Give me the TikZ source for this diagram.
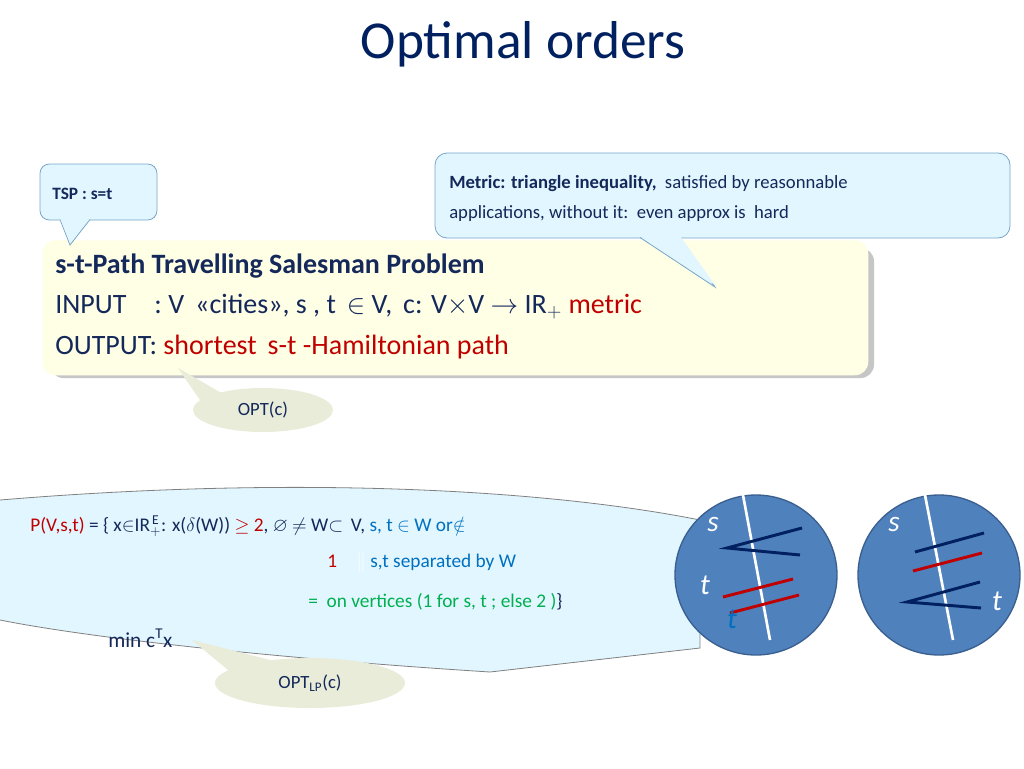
\documentclass[tikz,border=0pt]{standalone}
\usepackage{fontspec}
\setmainfont{Carlito}
\usepackage{amssymb}
\usetikzlibrary{shapes.geometric}
\begin{document}
\begin{tikzpicture}[x=0.75pt,y=-0.75pt,
  txt/.style={anchor=base west,inner sep=0pt,text=navy},
  callout/.style={fill=cyanf,draw=cyanb,line width=0.6pt},
  oval/.style={fill=olivef,draw=none}]
\definecolor{navy}{RGB}{20,40,90}
\definecolor{redt}{RGB}{192,0,0}
\definecolor{bluet}{RGB}{0,112,192}
\definecolor{greent}{RGB}{0,176,80}
\definecolor{cyanf}{RGB}{225,246,255}
\definecolor{cyanb}{RGB}{120,165,200}
\definecolor{olivef}{RGB}{232,236,216}
\definecolor{yel}{RGB}{255,255,230}
\definecolor{circf}{RGB}{79,129,189}
\definecolor{circb}{RGB}{58,95,143}
\definecolor{dnavy}{RGB}{0,32,96}
\useasboundingbox (0,0) rectangle (1024,768);
\node[txt,anchor=base,font=\fontsize{40}{48}\selectfont,text=dnavy] (title) at (523,58) {Optimal orders};
% main box
\fill[gray!45,rounded corners=10] (50,248) rectangle (874,378);
\node[fill=yel,rounded corners=10,minimum width=826*0.75pt,minimum height=135*0.75pt,anchor=north west,inner sep=0pt] (box) at (42,240) {};
% TSP callout
\draw[callout,rounded corners=7] (40,164) rectangle (157,220);
\draw[callout] (60,219.5) -- (70,245) -- (90,219.5);
\fill[cyanf] (60,218) -- (70,243) -- (90,218) -- cycle;
\node[txt,font=\bfseries\fontsize{13}{15}\selectfont] (tsp) at (52,199) {TSP : s=t};
% metric callout
\draw[callout,rounded corners=9] (435,153) rectangle (1010,238);
\draw[callout] (640,237.5) -- (715,287) -- (680,237.5);
\fill[cyanf] (640,236) -- (715,285) -- (680,236) -- cycle;
\node[txt,font=\fontsize{14}{16}\selectfont] (metric) at (449,188) {\textbf{Metric: triangle inequality,}\ \ satisfied by reasonnable};
\node[txt,font=\fontsize{14}{16}\selectfont] (metric2) at (449,218) {applications, without it:\ \ even approx is\ \ hard};
% box text
\node[txt,font=\bfseries\fontsize{21}{25}\selectfont] (l1) at (55,273) {s-t-Path Travelling Salesman Problem};
\node[txt,font=\fontsize{21}{25}\selectfont] (l2) at (55,313) {INPUT\quad : V\, «cities», s , t\, $\in$ V,\, c: V$\times$V $\rightarrow$ IR$_+$ \textcolor{redt}{metric}};
\node[txt,font=\fontsize{21}{25}\selectfont] (l3) at (55,354) {OUTPUT: \textcolor{redt}{shortest\, s-t -Hamiltonian path}};
% OPT(c)
\fill[olivef] (200,400) -- (178,368) -- (225,395) -- cycle;
\node[oval,ellipse,minimum width=140*0.75pt,minimum height=44*0.75pt] (opt) at (263,410) {};
\node[txt,anchor=center,font=\fontsize{14}{16}\selectfont] at (opt) {OPT(c)};
% bottom callout
\draw[callout,draw=gray] (0,500) .. controls (300,475) and (550,490) .. (700,520) -- (700,648) -- (490,672) .. controls (300,660) and (100,640) .. (0,620);
\fill[olivef] (240,680) -- (192,640) -- (290,665) -- cycle;
\node[oval,ellipse,minimum width=190*0.75pt,minimum height=50*0.75pt] (optlp) at (310,683) {};
\node[txt,anchor=center,font=\fontsize{14}{16}\selectfont] at (optlp) {OPT\textsubscript{LP}(c)};
\node[txt,font=\fontsize{14.5}{17}\selectfont] (p1) at (30,531) {\textcolor{redt}{P(V,s,t)} = \{ x$\in$IR$_+^{\,\mathrm{E}}$: x($\delta$(W)) \textcolor{redt}{$\geq$ 2}, $\varnothing$ $\neq$ W$\subset$\, V, \textcolor{bluet}{s, t $\in$ W or$\notin$}};
\node[txt,font=\fontsize{14.5}{17}\selectfont] (p2) at (327,567) {\textcolor{redt}{1}\quad\textcolor{white}{$\|$} \textcolor{bluet}{s,t separated by W}};
\node[txt,font=\fontsize{14.5}{17}\selectfont] (p3) at (308,607) {\textcolor{greent}{=\ \ on vertices (1 for s, t ; else 2 )}\}};
\node[txt,font=\fontsize{16}{18}\selectfont] (p4) at (108,647) {min c\textsuperscript{T}x};
% circles
\foreach \cx/\nm in {756/cl,939/cr}
  \node[ellipse,fill=circf,draw=circb,line width=1pt,minimum width=162*0.75pt,minimum height=160*0.75pt] (\nm) at (\cx,575) {};
\draw[white,line width=2pt] (743,495) -- (770,640);
\draw[white,line width=2pt] (925,495) -- (953,640);
\draw[dnavy,line width=2.2pt] (802,528) -- (727,548) -- (800,555);
\draw[redt,line width=2.2pt] (723,597) -- (793,579);
\draw[redt,line width=2.2pt] (730,613) -- (799,595);
\draw[dnavy,line width=2.2pt] (915,552) -- (984,533);
\draw[redt,line width=2.2pt] (913,571) -- (982,553);
\draw[dnavy,line width=2.2pt] (980,582) -- (907,602) -- (981,608);
\node[txt,anchor=center,text=white,font=\itshape\fontsize{22}{24}\selectfont] at (713,524) {s};
\node[txt,anchor=center,text=white,font=\itshape\fontsize{22}{24}\selectfont] at (705,585) {t};
\node[txt,anchor=center,text=bluet,font=\itshape\fontsize{22}{24}\selectfont] at (732,619) {t};
\node[txt,anchor=center,text=white,font=\itshape\fontsize{22}{24}\selectfont] at (894,524) {s};
\node[txt,anchor=center,text=white,font=\itshape\fontsize{22}{24}\selectfont] at (997,601) {t};
\end{tikzpicture}
\end{document}
